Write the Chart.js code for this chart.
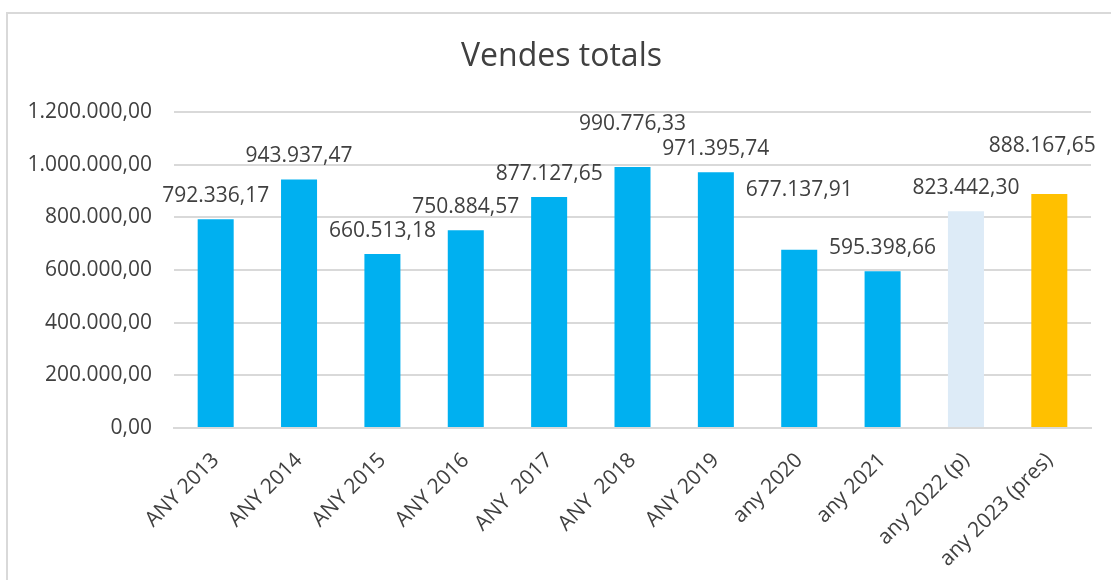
<!DOCTYPE html>
<html>
<head>
<meta charset="utf-8">
<script src="https://cdn.jsdelivr.net/npm/chart.js@4.4.1/dist/chart.umd.min.js"></script>
<style>
  html, body { margin: 0; padding: 0; background: #fff; overflow: hidden; }
  #frame { position: absolute; left: 6px; top: 12px; width: 1200px; height: 700px; border: 2px solid #d9d9d9; }
  #wrap { position: absolute; left: 0; top: 0; width: 1111px; height: 580px; }
</style>
</head>
<body>
<div id="frame"></div>
<div id="wrap"><canvas id="chart" width="1111" height="580"></canvas></div>
<script>
// Vendes totals: vendes anuals, barres amb etiquetes de valor
const categories = ['ANY 2013', 'ANY 2014', 'ANY 2015', 'ANY 2016', 'ANY  2017', 'ANY  2018',
  'ANY 2019', 'any 2020', 'any 2021', 'any 2022 (p)', 'any 2023 (pres)'];
const sales = [792336.17, 943937.47, 660513.18, 750884.57, 877127.65, 990776.33,
  971395.74, 677137.91, 595398.66, 823442.30, 888167.65];
const yMax = 1200000;
const yStep = 200000;
const chartTitle = 'Vendes totals';

// estil: colors de barra i desplaçament de les etiquetes (mogudes a mà a l'original)
const BLUE = '#00b0f0';
const barColors = [BLUE, BLUE, BLUE, BLUE, BLUE, BLUE, BLUE, BLUE, BLUE, '#ddebf7', '#ffc000'];
const labelLift = [0, 0, 0, 0, 0, 20, 0, 37, 0, 0, 25];
const labelShift = [0, 0, 0, 0, 0, 0, 0, 0, 0, 0, -7];

const FONT = "'Open Sans', 'Liberation Sans', sans-serif";
const INK = '#404040';
const GRID = '#d9d9d9';

// format català: 1.200.000,00
function fmt(v) {
  const [int, dec] = Math.abs(v).toFixed(2).split('.');
  return int.replace(/\B(?=(\d{3})+(?!\d))/g, '.') + ',' + dec;
}

// títol centrat sobre tot el requadre (no sobre l'àrea del gràfic)
const titleText = {
  id: 'titleText',
  afterDraw(chart) {
    const ctx = chart.ctx;
    ctx.save();
    ctx.font = `32px ${FONT}`;
    ctx.fillStyle = INK;
    ctx.textAlign = 'center';
    ctx.textBaseline = 'middle';
    ctx.fillText(chartTitle, chart.width / 2 + 6, 57);
    ctx.restore();
  }
};

const valueLabels = {
  id: 'valueLabels',
  afterDatasetsDraw(chart) {
    const ctx = chart.ctx;
    const meta = chart.getDatasetMeta(0);
    ctx.save();
    ctx.font = `21px ${FONT}`;
    ctx.fillStyle = INK;
    ctx.textAlign = 'center';
    ctx.textBaseline = 'middle';
    meta.data.forEach((bar, i) => {
      ctx.fillText(fmt(sales[i]), bar.x + labelShift[i], bar.y - 23 - labelLift[i]);
    });
    ctx.restore();
  }
};

new Chart(document.getElementById('chart'), {
  type: 'bar',
  data: {
    labels: categories,
    datasets: [{
      data: sales,
      backgroundColor: barColors,
      categoryPercentage: 1,
      barPercentage: 0.432
    }]
  },
  options: {
    responsive: false,
    animation: false,
    layout: { padding: { left: 0, right: 20, top: 112, bottom: 0 } },
    plugins: {
      legend: { display: false },
      tooltip: { enabled: false },
      title: { display: false }
    },
    scales: {
      y: {
        min: 0, max: yMax,
        ticks: { stepSize: yStep, callback: v => fmt(v), color: INK, font: { family: FONT, size: 21 }, padding: 22 },
        grid: { color: GRID, lineWidth: 2, drawTicks: false },
        border: { display: false },
        afterFit: s => { s.width = 174; }
      },
      x: {
        ticks: { minRotation: 45, maxRotation: 45, autoSkip: false, color: INK, font: { family: FONT, size: 21 }, padding: 20 },
        grid: { display: false, drawTicks: false },
        border: { color: GRID, width: 2 },
        afterFit: s => { s.height = 152; }
      }
    }
  },
  plugins: [valueLabels, titleText]
});
</script>
</body>
</html>
